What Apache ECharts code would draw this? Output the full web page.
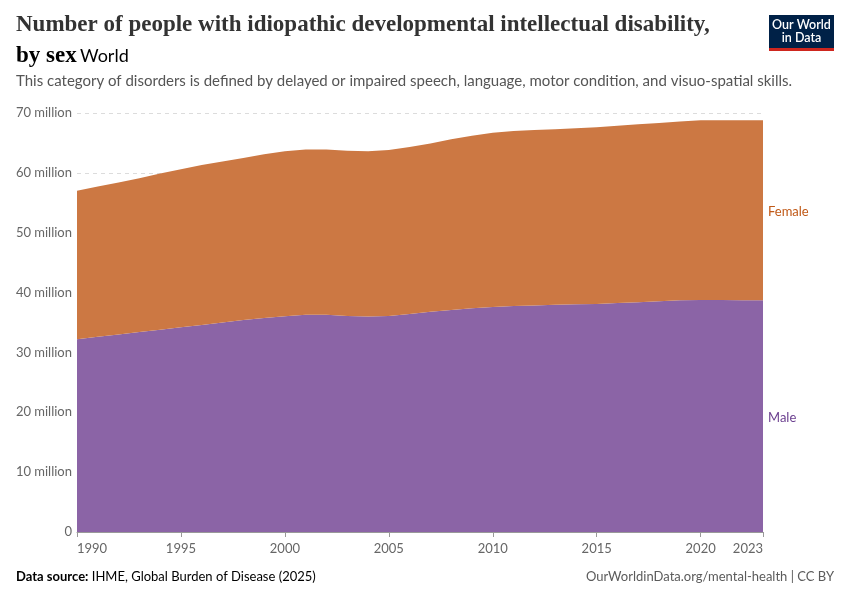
<!DOCTYPE html>
<html>
<head>
<meta charset="utf-8">
<script src="https://cdn.jsdelivr.net/npm/echarts@6/dist/echarts.min.js"></script>
<style>
html,body{margin:0;padding:0;background:#fff;}
#chart{width:850px;height:600px;}
</style>
</head>
<body>
<div id="chart"></div>
<script>
// Data (millions of people)
const years = [1990,1991,1992,1993,1994,1995,1996,1997,1998,1999,2000,2001,2002,2003,2004,2005,2006,2007,2008,2009,2010,2011,2012,2013,2014,2015,2016,2017,2018,2019,2020,2021,2022,2023];
const male = [32.2,32.6,33.0,33.4,33.8,34.2,34.6,35.0,35.4,35.75,36.05,36.3,36.3,36.1,36.0,36.1,36.4,36.8,37.1,37.4,37.6,37.75,37.85,37.95,38.05,38.1,38.25,38.4,38.55,38.7,38.75,38.75,38.7,38.7];
const female = [24.8,25.1,25.4,25.7,26.1,26.4,26.7,26.9,27.1,27.35,27.55,27.6,27.6,27.6,27.6,27.7,27.9,28.1,28.5,28.8,29.1,29.25,29.3,29.35,29.4,29.5,29.6,29.7,29.8,29.9,30.05,30.05,30.1,30.1];
const xTicks = [1990,1995,2000,2005,2010,2015,2020,2023];
const seriesNames = ['Male','Female'];

const maleColor = '#8b64a6';
const femaleColor = '#cc7843';
const maleText = '#6b3f8f';
const femaleText = '#c05917';

const chart = echarts.init(document.getElementById('chart'), null, {renderer:'canvas'});

function yLabel(v){ return v === 0 ? '0' : v + ' million'; }
const showYear = (idx) => xTicks.indexOf(years[idx]) >= 0;

const option = {
  animation: false,
  backgroundColor: '#ffffff',
  textStyle: {fontFamily: 'Lato'},
  grid: {left: 77, right: 87, top: 113, bottom: 68},
  xAxis: {
    type: 'category',
    data: years.map(String),
    boundaryGap: false,
    axisLine: {show: true, lineStyle: {color: '#999', width: 1}},
    axisTick: {show: true, interval: (i) => showYear(i), length: 5, lineStyle: {color: '#999'}},
    axisLabel: {interval: (i) => showYear(i), color: '#666', fontSize: 13, fontFamily: 'Lato', margin: 10,
      alignMinLabel: 'left', alignMaxLabel: 'right'},
    splitLine: {show: false}
  },
  yAxis: {
    type: 'value',
    min: 0, max: 70, interval: 10,
    axisLine: {show: false},
    axisTick: {show: false},
    axisLabel: {color: '#666', fontSize: 13, fontFamily: 'Lato', margin: 5, formatter: yLabel},
    splitLine: {show: true, lineStyle: {color: '#dcdcdc', type: [4,4], width: 1}}
  },
  series: [
    {
      name: seriesNames[0], type: 'line', stack: 'total', symbol: 'none',
      data: male,
      lineStyle: {width: 0}, areaStyle: {color: maleColor, opacity: 1}, z: 2
    },
    {
      name: seriesNames[1], type: 'line', stack: 'total', symbol: 'none',
      data: female,
      lineStyle: {width: 0}, areaStyle: {color: femaleColor, opacity: 1}, z: 2
    }
  ]
};
chart.setOption(option);

// Series labels placed at the middle of each band at the last year
const last = years.length - 1;
const maleMid = chart.convertToPixel({gridIndex:0}, [last, male[last]/2]);
const femMid = chart.convertToPixel({gridIndex:0}, [last, male[last] + female[last]/2]);

chart.setOption({
  graphic: [
    {type:'text', left: 16, top: 14, style:{
      text: 'Number of people with idiopathic developmental intellectual disability,',
      font: '600 23px "Liberation Serif", "DejaVu Serif", serif', fill: '#333'}},
    {type:'text', left: 16, top: 45, style:{
      text: '{a|by sex} {b|World}',
      rich: {
        a: {font: '600 23px "Liberation Serif", "DejaVu Serif", serif', color:'#333'},
        b: {font: '18px Lato', color: '#6e6e6e'}
      }}},
    {type:'text', left: 16, top: 74, style:{
      text: 'This category of disorders is defined by delayed or impaired speech, language, motor condition, and visuo-spatial skills.',
      font: '15px Lato', fill: '#555'}},
    {type:'group', left: 769, top: 15, children: [
      {type:'rect', shape:{x:0,y:0,width:65,height:36}, style:{fill:'#002147'}},
      {type:'rect', shape:{x:0,y:33,width:65,height:3}, style:{fill:'#ce261e'}},
      {type:'text', x: 32.5, y: 3, style:{text:'Our World\nin Data', font:'600 12.5px Lato', fill:'#fff', align:'center', lineHeight: 13}}
    ]},
    {type:'text', x: maleMid[0] + 5, y: maleMid[1] + 2, style:{text: seriesNames[0], font:'13px Lato', fill: maleText, verticalAlign:'middle'}},
    {type:'text', x: femMid[0] + 5, y: femMid[1] + 2, style:{text: seriesNames[1], font:'13px Lato', fill: femaleText, verticalAlign:'middle'}},
    {type:'text', left: 16, top: 570, style:{
      text: '{b|Data source:} {n|IHME, Global Burden of Disease (2025)}',
      rich: {b:{font:'bold 13px Lato', color:'#5b5b5b'}, n:{font:'13px Lato', color:'#5b5b5b'}}}},
    {type:'text', right: 16, top: 570, style:{
      text: 'OurWorldinData.org/mental-health | CC BY', font:'13px Lato', fill:'#5b5b5b'}}
  ]
});
</script>
</body>
</html>
